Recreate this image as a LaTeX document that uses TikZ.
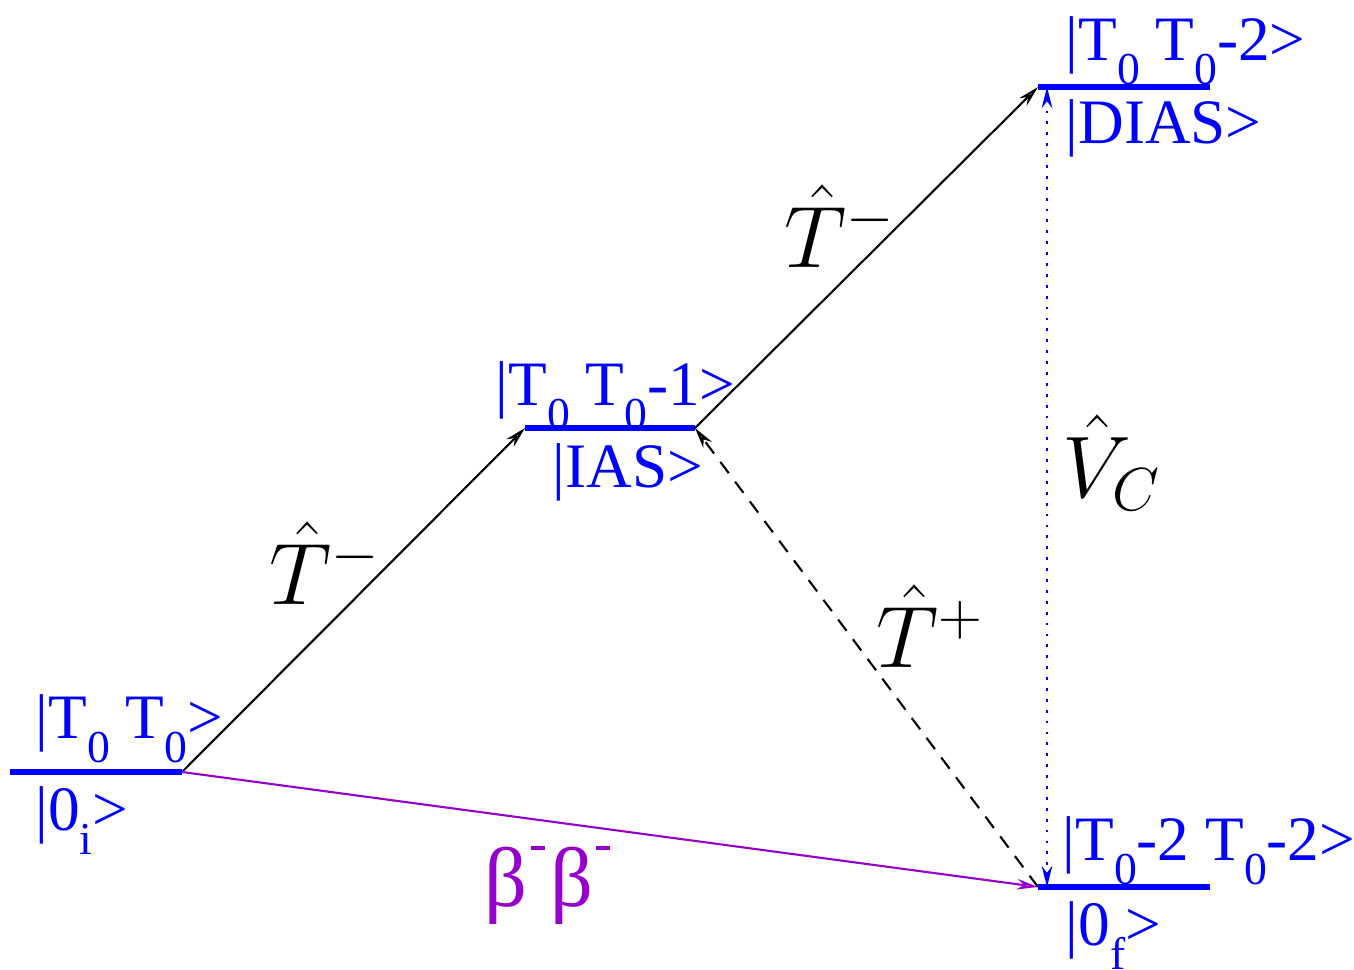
\documentclass[tikz,border=0pt]{standalone}
\usepackage{fontspec}
\setmainfont{Liberation Serif}
\newfontfamily\statefont{Liberation Serif}
\usetikzlibrary{arrows.meta}
\definecolor{levelblue}{RGB}{0,0,255}
\definecolor{bbpurple}{RGB}{150,0,205}
\newcommand{\lsub}[1]{\raisebox{-7pt}{\fontsize{13}{14}\selectfont #1}}
\newcommand{\bbminus}{\kern1pt\raisebox{16pt}{\rule{4pt}{1.2pt}}\kern1.5pt}
\tikzset{
    >={Stealth[open,length=6pt,width=3pt]}, % thin open arrowhead
    level/.style={line width=1.8pt, draw=levelblue},
    statelabel/.style={font=\statefont\fontsize{18}{20}\selectfont, text=levelblue,
                       anchor=base west, inner sep=0pt},
    oplabel/.style={font=\fontsize{23}{26}\selectfont, text=black},
    ladder/.style={line width=0.6pt, draw=black}
}

\begin{document}
\begin{tikzpicture}
  \useasboundingbox (0,0) rectangle (13.54,9.69);
  % Level end points
  \coordinate (gndL)  at (0.10,1.97);  \coordinate (gndR)  at (1.82,1.97);
  \coordinate (iasL)  at (5.25,5.41);  \coordinate (iasR)  at (6.95,5.41);
  \coordinate (diasL) at (10.38,8.82); \coordinate (diasR) at (12.10,8.82);
  \coordinate (finL)  at (10.38,0.82); \coordinate (finR)  at (12.10,0.82);
  \coordinate (diasV) at (10.47,8.82); \coordinate (finV)  at (10.47,0.82);

  % Transitions
  \draw[ladder, ->] (gndR) -- (iasL);
  \draw[ladder, ->] (iasR) -- (diasL);
  \draw[ladder, dash pattern=on 4pt off 3pt, ->] (finL) -- (iasR);
  \draw[levelblue, line width=0.8pt, dash pattern=on 0.8pt off 2.3pt, <->] (diasV) -- (finV);
  \draw[bbpurple, line width=0.6pt, ->] (gndR) -- (finL);

  % Levels
  \draw[level] (gndL) -- (gndR);
  \draw[level] (iasL) -- (iasR);
  \draw[level] (diasL) -- (diasR);
  \draw[level] (finL) -- (finR);

  % State labels
  \node[statelabel] (gndUp)  at (0.35,2.31)  {|T\lsub{0} T\lsub{0}>};
  \node[statelabel] (gndLo)  at (0.35,1.39)  {|0\lsub{i}>};
  \node[statelabel] (iasUp)  at (4.95,5.64)  {|T\lsub{0} T\lsub{0}-1>};
  \node[statelabel] (iasLo)  at (5.52,4.82)  {|IAS>};
  \node[statelabel] (diasUp) at (10.65,9.09) {|T\lsub{0} T\lsub{0}-2>};
  \node[statelabel] (diasLo) at (10.65,8.26) {|DIAS>};
  \node[statelabel] (finUp)  at (10.62,1.09) {|T\lsub{0}-2 T\lsub{0}-2>};
  \node[statelabel] (finLo)  at (10.65,0.24) {|0\lsub{f}>};

  % Operator labels
  \node[oplabel] (tlow)  at (3.25,4.06)  {$\hat{T}^{-}$};
  \node[oplabel] (thigh) at (8.40,7.43)  {$\hat{T}^{-}$};
  \node[oplabel] (tplus) at (9.30,3.43)  {$\hat{T}^{+}$};
  \node[oplabel] (vc)    at (11.12,5.06) {$\hat{V}_{C}$};
  \node[font=\statefont\fontsize{24}{26}\selectfont, text=bbpurple] (bb) at (5.50,0.84)
       {β\bbminus β\bbminus};
\end{tikzpicture}
\end{document}
